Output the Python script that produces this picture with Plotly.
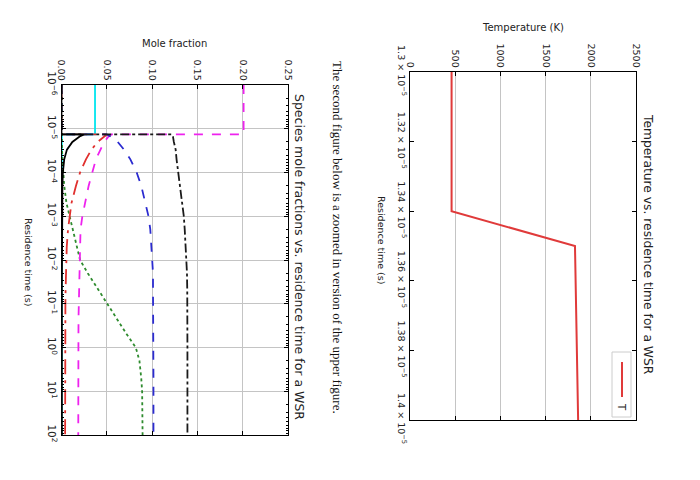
import plotly.graph_objects as go

# ---------------- data ----------------
# Upper figure: temperature vs residence time (zoomed)
temp_time = [1.30e-5, 1.34e-5, 1.35e-5, 1.40e-5]
temp_vals = [460, 460, 1825, 1860]
temp_xticks = [0, 500, 1000, 1500, 2000, 2500]
temp_yticks = [1.30e-5, 1.32e-5, 1.34e-5, 1.36e-5, 1.38e-5, 1.40e-5]
temp_yticktext = ["1.3 × 10<sup>−5</sup>", "1.32 × 10<sup>−5</sup>", "1.34 × 10<sup>−5</sup>",
                  "1.36 × 10<sup>−5</sup>", "1.38 × 10<sup>−5</sup>", "1.4 × 10<sup>−5</sup>"]

# Lower figure: species mole fractions vs residence time
res_time = [1e-6, 1e-5, 1.34e-5, 1.35e-5, 1.5e-5, 2e-5, 3e-5, 5e-5, 1e-4, 2e-4, 5e-4,
            1e-3, 2e-3, 5e-3, 1e-2, 2e-2, 5e-2, 1e-1, 2e-1, 5e-1, 1, 2, 5, 10, 100]
x_cyan = [0.037, 0.037, 0.037, 0.0004, 0.0004, 0.0003, 0.0003, 0.0003, 0.0003, 0.0003, 0.0003,
          0.0003, 0.0003, 0.0003, 0.0003, 0.0003, 0.0003, 0.0003, 0.0003, 0.0003, 0.0003,
          0.0003, 0.0003, 0.0003, 0.0003]
x_green = [0.0, 0.0, 0.0, 0.0, 0.0001, 0.0003, 0.0006, 0.001, 0.002, 0.003, 0.0055,
           0.009, 0.012, 0.017, 0.0205, 0.029, 0.041, 0.051, 0.060, 0.072, 0.082,
           0.086, 0.088, 0.089, 0.0895]
x_red = [0.0, 0.0, 0.0, 0.050, 0.047, 0.040, 0.033, 0.027, 0.0205, 0.016, 0.011,
         0.0087, 0.0072, 0.0058, 0.0052, 0.0048, 0.0045, 0.0043, 0.0042, 0.0041, 0.0041,
         0.0040, 0.0040, 0.0040, 0.0040]
x_magenta = [0.201, 0.201, 0.201, 0.055, 0.052, 0.047, 0.043, 0.038, 0.034, 0.030, 0.026,
             0.023, 0.021, 0.0205, 0.020, 0.0195, 0.019, 0.019, 0.0188, 0.0187, 0.0186,
             0.0186, 0.0185, 0.0185, 0.0185]
x_blue = [0.0, 0.0, 0.0, 0.050, 0.054, 0.062, 0.069, 0.076, 0.083, 0.088, 0.093,
          0.096, 0.098, 0.0995, 0.1005, 0.101, 0.101, 0.1012, 0.1013, 0.1014, 0.1015,
          0.1015, 0.1015, 0.1015, 0.1015]
x_black_dd = [0.0, 0.0, 0.0, 0.122, 0.123, 0.124, 0.126, 0.127, 0.129, 0.131, 0.133,
              0.135, 0.136, 0.137, 0.138, 0.1385, 0.1388, 0.139, 0.139, 0.139, 0.139,
              0.139, 0.139, 0.139, 0.139]
x_black = [0.0, 0.0, 0.0, 0.025, 0.020, 0.012, 0.006, 0.003, 0.0015, 0.001, 0.0008,
           0.0006, 0.0005, 0.0005, 0.0004, 0.0004, 0.0004, 0.0004, 0.0004, 0.0004, 0.0004,
           0.0004, 0.0004, 0.0004, 0.0004]
mf_ticks = [0.0, 0.05, 0.10, 0.15, 0.20, 0.25]
mf_ticktext = ["0.00", "0.05", "0.10", "0.15", "0.20", "0.25"]
log_decades = [-6, -5, -4, -3, -2, -1, 0, 1, 2]
log_ticktext = ["10<sup>−6</sup>", "10<sup>−5</sup>", "10<sup>−4</sup>", "10<sup>−3</sup>",
                "10<sup>−2</sup>", "10<sup>−1</sup>", "10<sup>0</sup>", "10<sup>1</sup>",
                "10<sup>2</sup>"]

FONT = "DejaVu Sans"
W, H = 700, 480

def px_x(v):
    return v / W

def px_y(v):
    return 1 - v / H

fig = go.Figure()

# ---- species traces (lower figure, rotated frame) ----
species = [
    (x_cyan, "#00e5ee", "solid", 1.8),
    (x_green, "#2e8b2e", "dot", 1.8),
    (x_red, "#e0302e", "longdashdot", 1.8),
    (x_magenta, "#ee22ee", "dash", 1.8),
    (x_blue, "#2b2bd0", "dash", 1.8),
    (x_black_dd, "#1a1a1a", "dashdot", 1.8),
    (x_black, "#000000", "solid", 1.8),
]
for xs, col, dash, w in species:
    fig.add_trace(go.Scatter(x=xs, y=res_time, mode="lines", xaxis="x2", yaxis="y2",
                             line=dict(color=col, dash=dash, width=w), showlegend=False))

# ---- temperature trace (upper figure) ----
fig.add_trace(go.Scatter(x=temp_vals, y=temp_time, mode="lines", xaxis="x", yaxis="y",
                         line=dict(color="#e03a3a", width=2), showlegend=False))

def axis_common(size):
    return dict(showline=True, linecolor="black", linewidth=1, mirror="ticks",
                ticks="inside", ticklen=4, tickcolor="black", automargin=False,
                tickfont=dict(family=FONT, size=size, color="#222"), zeroline=False)

minor_vals = [m * 10 ** d for d in log_decades[:-1] for m in range(2, 10)]

fig.update_layout(
    width=W, height=H, margin=dict(l=0, r=0, t=0, b=0, autoexpand=False),
    paper_bgcolor="white", plot_bgcolor="white",
    xaxis=dict(domain=[px_x(410), px_x(636)], anchor="y", side="top", range=[0, 2500],
               tickvals=temp_xticks, tickangle=90, showgrid=True, gridcolor="#c4c4c4",
               **axis_common(9.5)),
    yaxis=dict(domain=[px_y(420), px_y(72)], anchor="x", side="left",
               range=[1.40e-5, 1.30e-5], tickvals=temp_yticks, ticktext=temp_yticktext,
               tickangle=90, showgrid=False, **axis_common(9.5)),
    xaxis2=dict(domain=[px_x(61.5), px_x(288)], anchor="y2", side="top", range=[0, 0.25],
                tickvals=mf_ticks, ticktext=mf_ticktext, tickangle=90, showgrid=True,
                gridcolor="#c4c4c4", **axis_common(9.5)),
    yaxis2=dict(domain=[px_y(435), px_y(85)], anchor="x2", side="left", type="log",
                range=[2, -6], tickvals=[10 ** d for d in log_decades], ticktext=log_ticktext,
                tickangle=90, showgrid=True, gridcolor="#c4c4c4",
                minor=dict(tickmode="array", tickvals=minor_vals, ticks="inside",
                           ticklen=2, tickcolor="black", showgrid=False),
                **axis_common(10.5)),
)

ann = []
def add_text(text, x, y, size, angle=0, family=FONT, color="#222"):
    ann.append(dict(text=text, x=px_x(x), y=px_y(y), xref="paper", yref="paper",
                    showarrow=False, textangle=angle, xanchor="center", yanchor="middle",
                    font=dict(family=family, size=size, color=color)))

add_text("Temperature (K)", 523, 27, 10)
add_text("Temperature vs. residence time for a WSR", 648, 244, 12.3, 90)
add_text("Residence time (s)", 382, 240, 9.5, 90)
add_text("The second figure below is a zoomed in version of the upper figure.", 338, 237,
         13, 90, family="Liberation Serif", color="#111")
add_text("Mole fraction", 174, 43, 10)
add_text("Species mole fractions vs. residence time for a WSR", 300, 257, 12.5, 90)
add_text("Residence time (s)", 29, 262, 9.5, 90)
add_text("T", 622, 407, 10, 90)
fig.update_layout(annotations=ann)

# legend box for the upper figure (drawn in rotated orientation)
fig.add_shape(type="rect", xref="paper", yref="paper",
              x0=px_x(612), x1=px_x(631), y0=px_y(417), y1=px_y(352),
              line=dict(color="#cccccc", width=1), fillcolor="white")
fig.add_shape(type="line", xref="paper", yref="paper",
              x0=px_x(622), x1=px_x(622), y0=px_y(362), y1=px_y(397),
              line=dict(color="#e03a3a", width=2))

fig.write_html("out.html", config={"displayModeBar": False},
               post_script="document.body.style.margin='0px';")
